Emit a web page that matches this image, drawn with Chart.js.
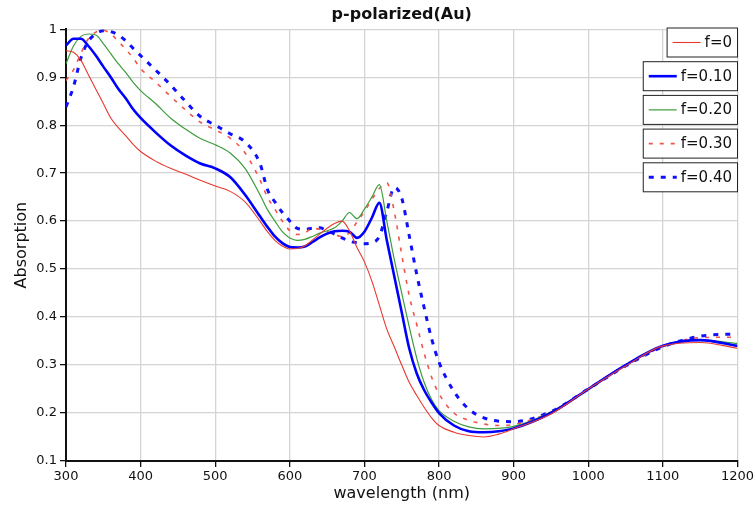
<!DOCTYPE html>
<html>
<head>
<meta charset="utf-8">
<script src="https://cdn.jsdelivr.net/npm/chart.js@4/dist/chart.umd.min.js"></script>
<style>
  html, body { margin: 0; padding: 0; background: #fff; }
  #wrap { width: 756px; height: 508px; }
</style>
</head>
<body>
<div id="wrap"><canvas id="absChart" width="756" height="508"></canvas></div>
<script>
// wavelength grid (nm)
var wavelength = [300,310,320,330,340,350,360,370,380,390,400,420,440,460,480,500,520,540,560,570,580,590,600,610,620,630,640,650,660,670,680,690,700,710,720,730,740,750,760,770,780,790,800,820,840,860,880,900,950,1000,1050,1100,1150,1200];

// absorption, one list per filling fraction
var absF0  = [0.955,0.952,0.935,0.905,0.875,0.845,0.815,0.795,0.778,0.760,0.745,0.725,0.710,0.698,0.685,0.673,0.662,0.640,0.600,0.578,0.560,0.548,0.542,0.543,0.548,0.560,0.573,0.585,0.595,0.600,0.580,0.545,0.515,0.475,0.425,0.375,0.338,0.300,0.264,0.237,0.212,0.190,0.174,0.160,0.153,0.150,0.156,0.167,0.198,0.250,0.298,0.340,0.347,0.335];
var absF10 = [0.966,0.980,0.980,0.965,0.945,0.922,0.900,0.876,0.856,0.833,0.815,0.785,0.758,0.737,0.720,0.710,0.692,0.655,0.610,0.588,0.568,0.554,0.546,0.545,0.547,0.556,0.566,0.574,0.579,0.580,0.578,0.565,0.578,0.607,0.638,0.560,0.485,0.410,0.335,0.283,0.248,0.222,0.200,0.174,0.162,0.160,0.162,0.168,0.200,0.250,0.300,0.340,0.352,0.340];
var absF20 = [0.928,0.965,0.985,0.990,0.988,0.970,0.949,0.928,0.910,0.889,0.872,0.845,0.815,0.792,0.772,0.759,0.742,0.710,0.655,0.624,0.600,0.578,0.565,0.560,0.562,0.568,0.575,0.580,0.586,0.600,0.618,0.605,0.625,0.650,0.676,0.600,0.520,0.450,0.380,0.315,0.264,0.228,0.205,0.183,0.171,0.167,0.168,0.172,0.202,0.250,0.300,0.340,0.352,0.345];
var absF30 = [0.893,0.915,0.950,0.980,0.994,0.998,0.990,0.975,0.958,0.940,0.918,0.890,0.860,0.832,0.806,0.790,0.773,0.742,0.686,0.650,0.625,0.600,0.580,0.572,0.575,0.585,0.583,0.578,0.572,0.568,0.576,0.598,0.620,0.645,0.668,0.680,0.620,0.530,0.445,0.385,0.325,0.275,0.240,0.200,0.185,0.177,0.174,0.176,0.202,0.250,0.298,0.338,0.357,0.358];
var absF40 = [0.838,0.880,0.940,0.975,0.990,0.997,0.995,0.988,0.976,0.960,0.945,0.915,0.884,0.850,0.818,0.800,0.782,0.765,0.720,0.666,0.640,0.618,0.600,0.585,0.583,0.585,0.586,0.580,0.573,0.565,0.558,0.555,0.553,0.555,0.568,0.620,0.670,0.648,0.570,0.490,0.420,0.355,0.306,0.245,0.208,0.190,0.183,0.182,0.203,0.250,0.298,0.338,0.360,0.365];

var seriesLabels = ["f=0", "f=0.10", "f=0.20", "f=0.30", "f=0.40"];
var yTicks = [0.1,0.2,0.3,0.4,0.5,0.6,0.7,0.8,0.9,1];

function pts(vals) {
    var out = [];
    for (var i = 0; i < wavelength.length; i++) {
        out.push({x: wavelength[i], y: vals[i]});
    }
    return out;
}

// separate boxed legend entries on the right, like the original figure
var boxLegend = {
    id: "boxLegend",
    afterDraw: function(chart) {
        var ctx = chart.ctx;
        var right = 737;
        var top = 27.5;
        ctx.save();
        ctx.font = "15px 'DejaVu Sans'";
        ctx.textBaseline = "middle";
        chart.data.datasets.forEach(function(ds, i) {
            var tw = ctx.measureText(ds.label).width;
            var w = 6 + 28 + 4 + tw + 5;
            var h = 29;
            var x = right - w;
            var y = top + i * 33.7;
            ctx.fillStyle = "#fff";
            ctx.fillRect(x, y, w, h);
            ctx.strokeStyle = "#222";
            ctx.lineWidth = 1;
            ctx.setLineDash([]);
            ctx.strokeRect(x + 0.5, y + 0.5, w, h);
            ctx.strokeStyle = ds.borderColor;
            ctx.lineWidth = ds.borderWidth;
            ctx.setLineDash(ds.borderDash || []);
            ctx.beginPath();
            ctx.moveTo(x + 6, y + h / 2 + 0.5);
            ctx.lineTo(x + 34, y + h / 2 + 0.5);
            ctx.stroke();
            ctx.setLineDash([]);
            ctx.fillStyle = "#111";
            ctx.fillText(ds.label, x + 38, y + h / 2 + 1);
        });
        ctx.restore();
    }
};

var ctx = document.getElementById("absChart").getContext("2d");
var chart = new Chart(ctx, {
    type: "line",
    data: {
        datasets: [
            { label: seriesLabels[0], data: pts(absF0),  borderColor: "#e8392f", borderWidth: 1.1 },
            { label: seriesLabels[1], data: pts(absF10), borderColor: "#0000ff", borderWidth: 2.6 },
            { label: seriesLabels[2], data: pts(absF20), borderColor: "#3c9c3c", borderWidth: 1.2 },
            { label: seriesLabels[3], data: pts(absF30), borderColor: "#f0554c", borderWidth: 1.6, borderDash: [4, 7] },
            { label: seriesLabels[4], data: pts(absF40), borderColor: "#1010ff", borderWidth: 3, borderDash: [5, 7] }
        ]
    },
    options: {
        responsive: false,
        animation: false,
        layout: { padding: { left: 0, right: 18, top: 0, bottom: 0 } },
        elements: {
            point: { radius: 0 },
            line: { cubicInterpolationMode: "monotone", fill: false }
        },
        plugins: {
            legend: { display: false },
            tooltip: { enabled: false },
            title: {
                display: true,
                text: "p-polarized(Au)",
                fullSize: false,
                color: "#111",
                font: { family: "'DejaVu Sans'", size: 16, weight: "bold" },
                padding: { top: 5, bottom: 5 }
            }
        },
        scales: {
            x: {
                type: "linear",
                min: 300,
                max: 1200,
                afterFit: function(s) { s.height = 47; },
                ticks: { stepSize: 100, color: "#111", padding: 2, maxRotation: 0,
                         font: { family: "'DejaVu Sans'", size: 13 },
                         callback: function(v) { return String(v); } },
                grid: { color: "#d4d4d4", lineWidth: 1.3, tickColor: "#111", tickLength: 6 },
                border: { color: "#111", width: 2 },
                title: { display: true, text: "wavelength (nm)", color: "#111",
                         font: { family: "'DejaVu Sans'", size: 16 }, padding: { top: 0, bottom: 5 } }
            },
            y: {
                min: 0.1,
                max: 1,
                afterFit: function(s) { s.width = 66; },
                afterBuildTicks: function(s) { s.ticks = yTicks.map(function(v) { return {value: v}; }); },
                ticks: {
                    color: "#111",
                    padding: 3,
                    font: { family: "'DejaVu Sans'", size: 13 },
                    callback: function(v) {
                        var r = Math.round(v * 10) / 10;
                        return r === 1 ? "1" : r.toFixed(1);
                    }
                },
                grid: { color: "#d4d4d4", lineWidth: 1.3, tickColor: "#111", tickLength: 6 },
                border: { color: "#111", width: 2 },
                title: { display: true, text: "Absorption", color: "#111",
                         font: { family: "'DejaVu Sans'", size: 16 }, padding: { top: 12, bottom: 0 } }
            }
        }
    },
    plugins: [boxLegend]
});
</script>
</body>
</html>
